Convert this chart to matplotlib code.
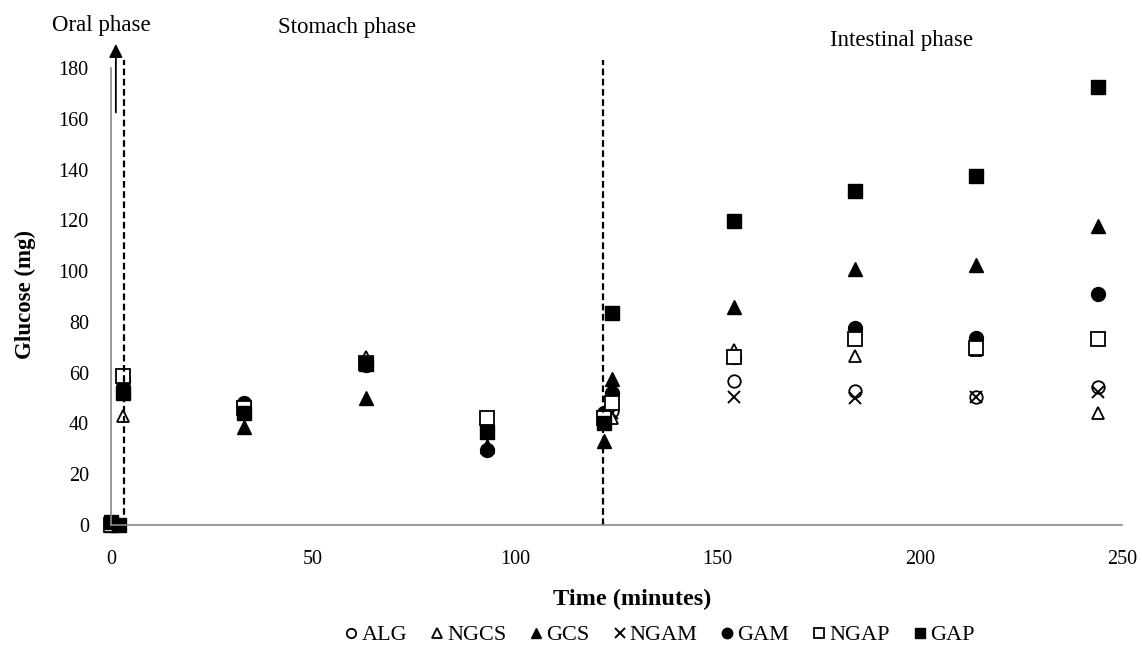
import matplotlib.pyplot as plt

# sampling times (minutes) and glucose (mg)
times = [0, 2, 3, 33, 63, 93, 122, 124, 154, 184, 214, 244]

ALG = [0, None, 55, 46, 63, 38, 41, 45, 56.7, 52.8, 50.4, 54.3]
NGCS = [0, None, 43, 46, 66, 40, 40, 42, 69, 66.5, 69, 44]
GCS = [0, None, 53, 38.5, 50, 31, 33, 57.5, 86, 100.8, 102.4, 117.7]
NGAM = [0, None, 54, 45, 63, 37, 40, 44, 50.4, 50, 50.4, 52.4]
GAM = [0, None, 57, 48, 63, 29.5, 44, 52, 66, 77.6, 73.6, 91]
NGAP = [0, None, 58.7, 46, 64, 42, 42, 48, 66, 73.2, 69.7, 73.2]
GAP = [1, 0, 52, 44, 63.5, 36.5, 40, 83.5, 119.7, 131.5, 137.4, 172.4]

series = [
    ('ALG', ALG, dict(marker='o', mfc='white', mec='black', ms=9, mew=1.3)),
    ('NGCS', NGCS, dict(marker='^', mfc='white', mec='black', ms=9, mew=1.3)),
    ('GCS', GCS, dict(marker='^', mfc='black', mec='black', ms=10)),
    ('NGAM', NGAM, dict(marker='x', color='black', ms=9, mew=1.4)),
    ('GAM', GAM, dict(marker='o', mfc='black', mec='black', ms=10)),
    ('NGAP', NGAP, dict(marker='s', mfc='white', mec='black', ms=9.5, mew=1.3)),
    ('GAP', GAP, dict(marker='s', mfc='black', mec='black', ms=10)),
]

plt.rcParams['font.family'] = ['Liberation Serif', 'DejaVu Serif']

fig = plt.figure(figsize=(11.42, 6.48), dpi=100)
ax = fig.add_axes([0.0972, 0.1898, 0.8853, 0.7052])

for name, vals, style in series:
    xs = [t for t, v in zip(times, vals) if v is not None]
    ys = [v for v in vals if v is not None]
    ax.plot(xs, ys, linestyle='none', label=name, clip_on=False, **style)

# phase separators and arrow
ax.plot([3.2, 3.2], [0, 183], color='black', lw=1.6, ls=(0, (3, 1.6)), clip_on=False)
ax.plot([121.7, 121.7], [0, 183], color='black', lw=1.6, ls=(0, (3, 1.6)), clip_on=False)
ax.annotate('', xy=(1.2, 189.5), xytext=(1.2, 162.5), annotation_clip=False,
            arrowprops=dict(arrowstyle='-|>', color='black', lw=1.3, mutation_scale=20,
                            shrinkA=0, shrinkB=0))

ax.set_xlim(0, 250)
ax.set_ylim(0, 180)
ax.set_xticks([0, 50, 100, 150, 200, 250])
ax.set_yticks(range(0, 181, 20))
ax.tick_params(length=0, labelsize=14.5)
ax.tick_params(axis='x', pad=18)
ax.tick_params(axis='y', pad=16)
for s in ['top', 'right']:
    ax.spines[s].set_visible(False)
for s in ['left', 'bottom']:
    ax.spines[s].set_color('#888888')
    ax.spines[s].set_linewidth(1.2)

ax.set_xlabel('Time (minutes)', fontsize=17.5, fontweight='bold')
ax.xaxis.set_label_coords(0.516, -0.14)
ax.set_ylabel('Glucose (mg)', fontsize=16.5, fontweight='bold')
ax.yaxis.set_label_coords(-0.074, 0.505)

fig.text(0.0455, 0.96, 'Oral phase', fontsize=16.5, va='center')
fig.text(0.304, 0.958, 'Stomach phase', fontsize=16.5, va='center', ha='center')
fig.text(0.789, 0.938, 'Intestinal phase', fontsize=16.5, va='center', ha='center')

fig.legend(loc='center', bbox_to_anchor=(0.577, 0.02), ncol=7, frameon=False,
           fontsize=16, markerscale=0.75, handlelength=0.7, handletextpad=0.1,
           columnspacing=1.0, borderaxespad=0)

fig.savefig('out.png', dpi=100)
